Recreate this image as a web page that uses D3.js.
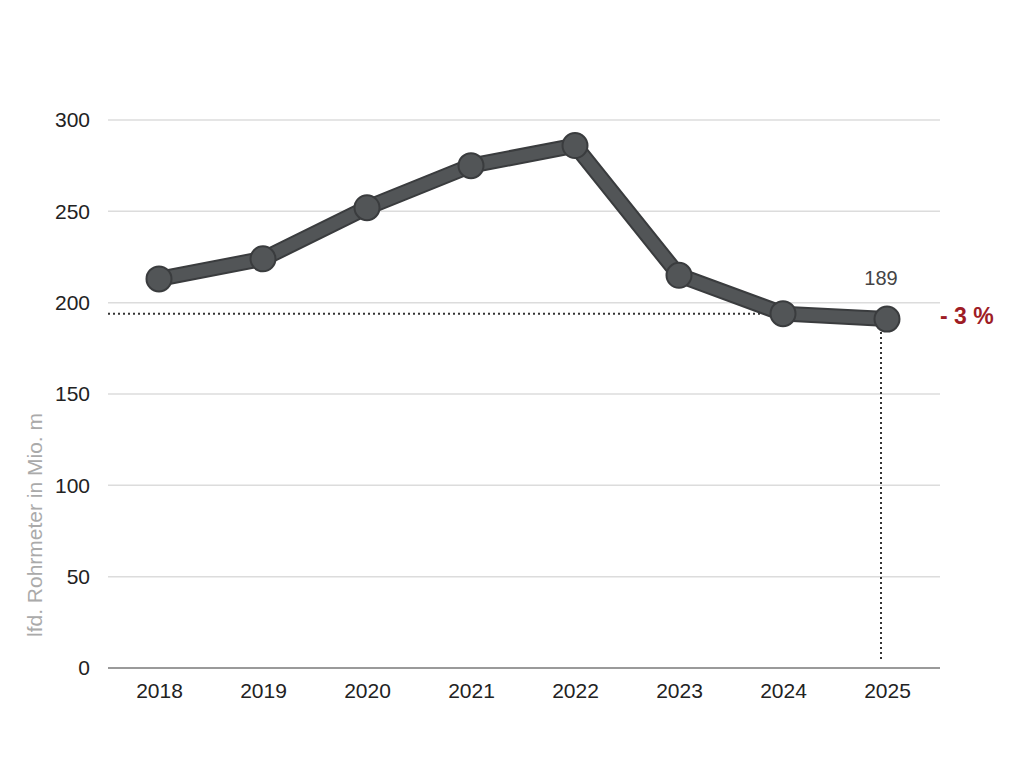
<!DOCTYPE html>
<html>
<head>
<meta charset="utf-8">
<script src="https://d3js.org/d3.v7.min.js"></script>
<style>
  body { margin: 0; background: #fff; }
  text { font-family: "Liberation Sans", "Roboto", sans-serif; }
</style>
</head>
<body>
<svg id="chart" width="1032" height="774"></svg>
<script>
const years = ["2018", "2019", "2020", "2021", "2022", "2023", "2024", "2025"];
const values = [213, 224, 252, 275, 286, 215, 194, 191];
const yTicks = [0, 50, 100, 150, 200, 250, 300];
const lastLabel = "189";
const changeLabel = "- 3 %";

const svg = d3.select("#chart");
const mLeft = 108, mRight = 940, mTop = 120, mBottom = 668;

const x = d3.scalePoint().domain(years).range([159, 887]);
const y = d3.scaleLinear().domain([0, 300]).range([mBottom, mTop]);

// gridlines
svg.append("g").selectAll("line").data(yTicks.filter(d => d > 0)).join("line")
  .attr("x1", mLeft).attr("x2", mRight)
  .attr("y1", d => y(d)).attr("y2", d => y(d))
  .attr("stroke", "#dcdcdc").attr("stroke-width", 1.5);

// y axis labels
const yAxis = svg.append("g").attr("transform", `translate(${mLeft},0)`)
  .call(d3.axisLeft(y).tickValues(yTicks).tickSize(0).tickPadding(18));
yAxis.select(".domain").remove();
yAxis.selectAll("text").attr("font-size", 21).attr("fill", "#222");

// x axis
const xAxis = svg.append("g").attr("transform", `translate(0,${mBottom})`)
  .call(d3.axisBottom(x).tickSize(0).tickPadding(12));
xAxis.select(".domain").remove();
xAxis.selectAll("text").attr("font-size", 21).attr("fill", "#222").attr("dy", "0.85em");
svg.append("line").attr("x1", mLeft).attr("x2", mRight)
  .attr("y1", mBottom).attr("y2", mBottom)
  .attr("stroke", "#9a9a9a").attr("stroke-width", 2);

// y axis title
svg.append("text")
  .attr("transform", "translate(42,525) rotate(-90)")
  .attr("text-anchor", "middle")
  .attr("font-size", 21).attr("fill", "#aaa")
  .text("lfd. Rohrmeter in Mio. m");

// reference dotted lines
const prev = values[values.length - 2];
svg.append("line")
  .attr("x1", mLeft).attr("x2", x(years[years.length - 2]))
  .attr("y1", y(prev)).attr("y2", y(prev))
  .attr("stroke", "#333").attr("stroke-width", 2).attr("stroke-dasharray", "2,3");
const lastX = x(years[years.length - 1]) - 6;
svg.append("line")
  .attr("x1", lastX).attr("x2", lastX)
  .attr("y1", y(values[values.length - 1]) + 8).attr("y2", mBottom - 6)
  .attr("stroke", "#333").attr("stroke-width", 2).attr("stroke-dasharray", "2,3");

// line
const line = d3.line().x((d, i) => x(years[i])).y(d => y(d));
svg.append("path").datum(values).attr("d", line)
  .attr("fill", "none").attr("stroke", "#3a3c3e").attr("stroke-width", 16)
  .attr("stroke-linejoin", "round");
svg.append("path").datum(values).attr("d", line)
  .attr("fill", "none").attr("stroke", "#525557").attr("stroke-width", 12)
  .attr("stroke-linejoin", "round");

svg.append("g").selectAll("circle").data(values).join("circle")
  .attr("cx", (d, i) => x(years[i])).attr("cy", d => y(d))
  .attr("r", 12.5).attr("fill", "#525557")
  .attr("stroke", "#3a3c3e").attr("stroke-width", 2);

// annotations
svg.append("text")
  .attr("x", x(years[years.length - 1]) - 6).attr("y", 285)
  .attr("text-anchor", "middle").attr("font-size", 20).attr("fill", "#444")
  .text(lastLabel);
svg.append("text")
  .attr("x", 940).attr("y", 324)
  .attr("font-size", 23).attr("font-weight", "bold").attr("fill", "#9e1c26")
  .text(changeLabel);
</script>
</body>
</html>
